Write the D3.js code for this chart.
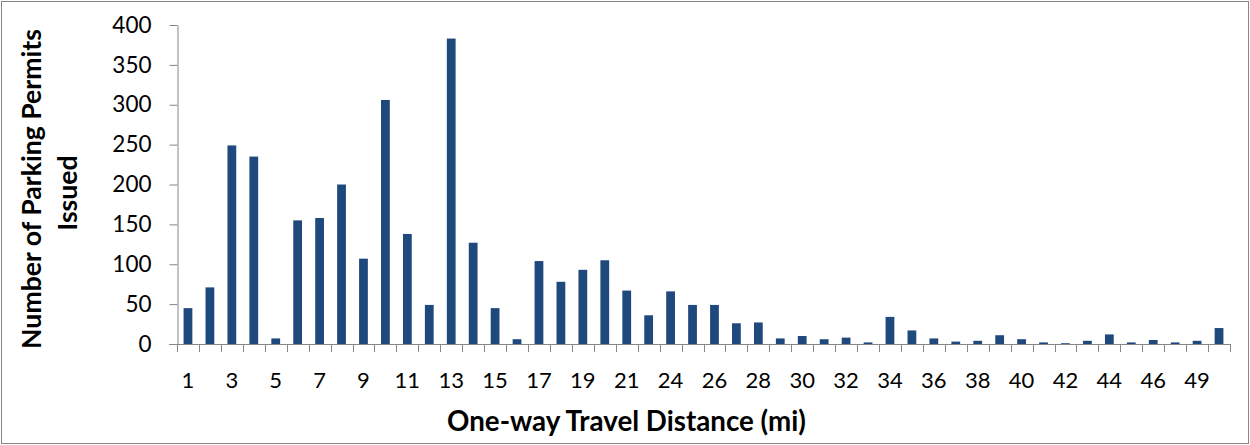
<!DOCTYPE html>
<html>
<head>
<meta charset="utf-8">
<script src="https://cdn.jsdelivr.net/npm/d3@7"></script>
<style>
  html, body { margin: 0; padding: 0; background: #fff; }
  svg { display: block; }
  text { font-family: Lato, "Open Sans", sans-serif; fill: #000; }
</style>
</head>
<body>
<svg id="chart" width="1250" height="445"></svg>
<script>
// ---- Data ----
const categories = ["1","2","3","4","5","6","7","8","9","10","11","12","13","14","15","16","17","18","19","20","21","22",
  "24","25","26","27","28","29","30","31","32","33","34","35","36","37","38","39","40","41","42","43","44","45","46","47","49","50"];
const permits = [45,71,249,235,7,155,158,200,107,306,138,49,383,127,45,6,104,78,93,105,67,36,
  66,49,49,26,27,7,10,6,8,2,34,17,7,3,4,11,6,2,1,4,12,2,5,2,4,20];
const yTicks = [0,50,100,150,200,250,300,350,400];
const xTitle = "One-way Travel Distance (mi)";
const yTitleLines = ["Number of Parking Permits", "Issued"];

// ---- Layout ----
const W = 1250, H = 445;
const plotL = 177, plotR = 1230, plotT = 25, plotB = 344;
const tickLen = 8;
const axisColor = "#868686";
const barColor = "#1F497D";

const svg = d3.select("#chart");

svg.append("rect")
  .attr("x", 1.5).attr("y", 1.5)
  .attr("width", W - 3).attr("height", H - 3)
  .attr("fill", "#fff").attr("stroke", axisColor).attr("stroke-width", 1);

const pad = 0.6;
const x = d3.scaleBand().domain(categories).range([plotL, plotR])
  .paddingInner(pad).paddingOuter(pad / 2);
const y = d3.scaleLinear().domain([0, 400]).range([plotB, plotT]);

// Bars
svg.append("g").selectAll("rect")
  .data(categories.map((c, i) => ({c, v: permits[i]})))
  .join("rect")
  .attr("x", d => x(d.c))
  .attr("width", x.bandwidth())
  .attr("y", d => y(d.v))
  .attr("height", d => y(0) - y(d.v))
  .attr("fill", barColor);

// Y axis
const yAxis = svg.append("g")
  .attr("transform", `translate(${plotL + 0.5},0)`)
  .call(d3.axisLeft(y).tickValues(yTicks).tickSize(tickLen).tickPadding(18).tickSizeOuter(0));
yAxis.select(".domain").attr("stroke", axisColor);
yAxis.selectAll(".tick line").attr("stroke", axisColor);
yAxis.selectAll(".tick text").attr("font-size", 22.5).attr("font-family", "Lato").attr("fill", "#000");

// X axis (labels on every other category, ticks at category boundaries)
const xAxis = svg.append("g")
  .attr("transform", `translate(0,${plotB})`)
  .call(d3.axisBottom(x).tickSize(0).tickPadding(28)
    .tickFormat((d, i) => (i % 2 === 0 ? d : "")));
xAxis.select(".domain").remove();
xAxis.selectAll(".tick text").attr("font-size", 22).attr("font-family", "Lato").attr("fill", "#000");

const step = x.step();
const boundaries = d3.range(categories.length + 1).map(i => plotL + i * step);
const xg = svg.append("g");
xg.append("line")
  .attr("x1", plotL - tickLen).attr("x2", plotR)
  .attr("y1", plotB + 0.5).attr("y2", plotB + 0.5)
  .attr("stroke", axisColor);
xg.selectAll("line.bt").data(boundaries).join("line")
  .attr("class", "bt")
  .attr("x1", d => Math.round(d) + 0.5).attr("x2", d => Math.round(d) + 0.5)
  .attr("y1", plotB).attr("y2", plotB + tickLen)
  .attr("stroke", axisColor);

// Titles
function fitText(sel, target) {
  const w = sel.node().getComputedTextLength();
  const fs = parseFloat(sel.attr("font-size"));
  sel.attr("font-size", fs * target / w);
}

const xt = svg.append("text")
  .attr("x", (447 + 806) / 2).attr("y", 431)
  .attr("text-anchor", "middle")
  .attr("font-weight", "bold").attr("font-size", 24)
  .text(xTitle);
fitText(xt, 359);

const yt1 = svg.append("text")
  .attr("transform", "translate(41,189) rotate(-90)")
  .attr("text-anchor", "middle")
  .attr("font-weight", "bold").attr("font-size", 24)
  .text(yTitleLines[0]);
fitText(yt1, 320);
const yt2 = svg.append("text")
  .attr("transform", "translate(77,193) rotate(-90)")
  .attr("text-anchor", "middle")
  .attr("font-weight", "bold").attr("font-size", yt1.attr("font-size"))
  .text(yTitleLines[1]);
</script>
</body>
</html>
